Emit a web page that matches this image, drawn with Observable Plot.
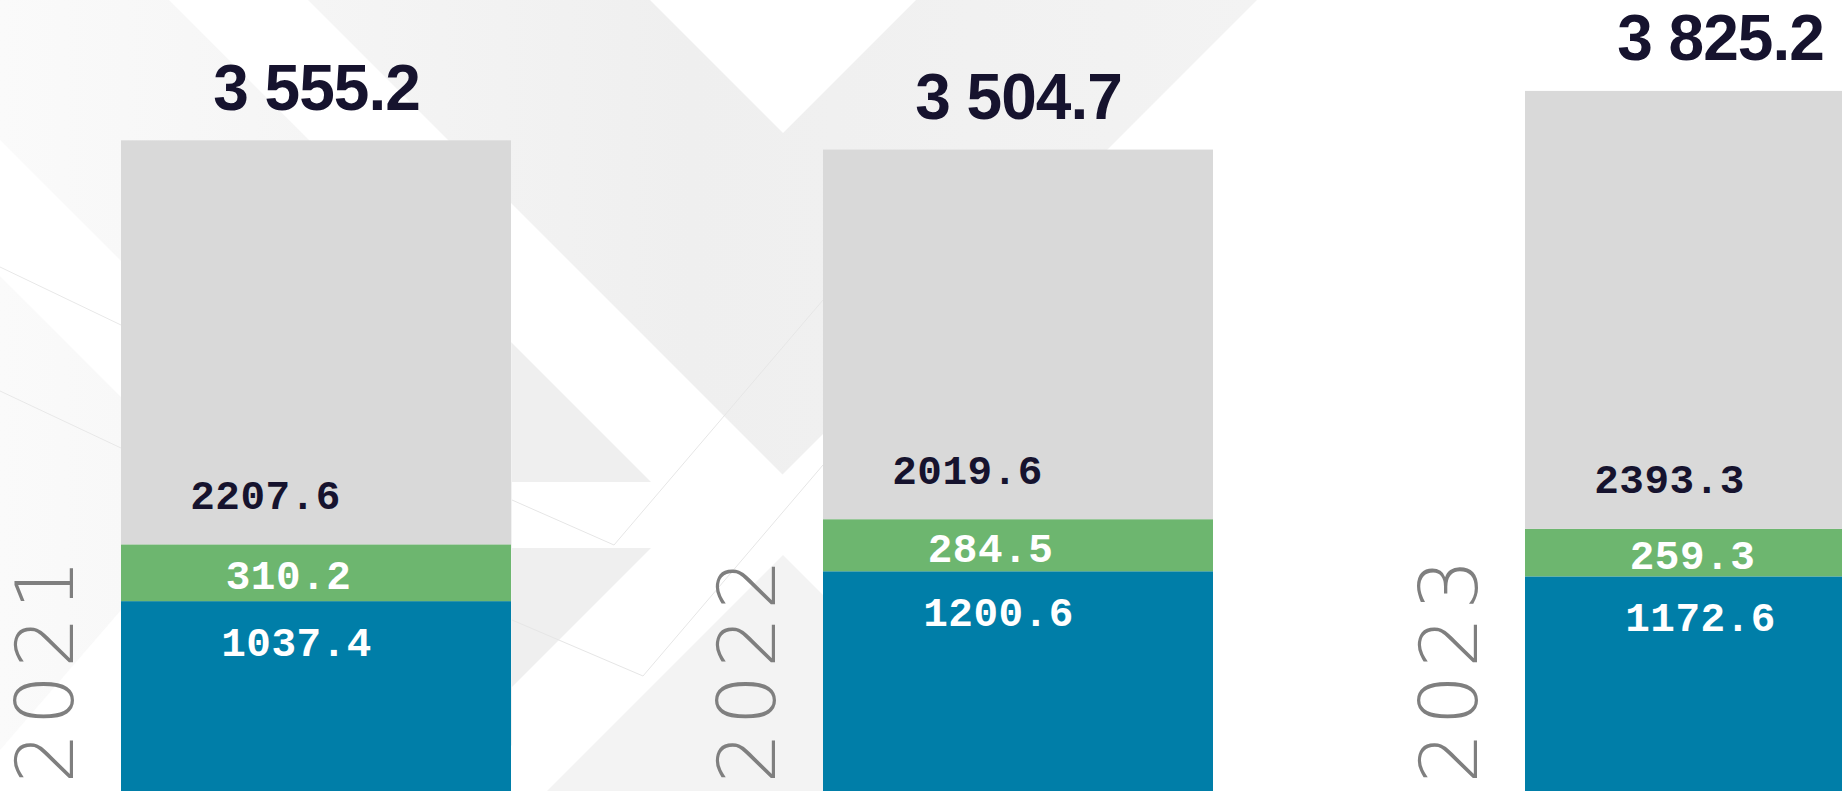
<!DOCTYPE html>
<html>
<head>
<meta charset="utf-8">
<script src="https://cdn.jsdelivr.net/npm/d3@7"></script>
<script src="https://cdn.jsdelivr.net/npm/@observablehq/plot@0.6"></script>
<style>
  html, body { margin: 0; padding: 0; background: #ffffff; }
  #wrap { position: relative; width: 1842px; height: 791px; overflow: hidden; }
  #bg, #chart { position: absolute; left: 0; top: 0; }
  #chart g[font-size="41"] { letter-spacing: 0.5px; }
  #chart g[font-size="64"] { letter-spacing: -1px; }
  #chart g[font-size="80"] { letter-spacing: 7px; }
</style>
</head>
<body>
<div id="wrap">
  <!-- decorative background pattern -->
  <svg id="bg" width="1842" height="791" xmlns="http://www.w3.org/2000/svg">
    <defs>
      <linearGradient id="gfade" x1="0" y1="0" x2="1" y2="0">
        <stop offset="0" stop-color="#fafafa"/>
        <stop offset="0.55" stop-color="#efefef"/>
        <stop offset="1" stop-color="#f3f3f3"/>
      </linearGradient>
    </defs>
    <rect width="1842" height="791" fill="#ffffff"/>
    <polygon points="0,0 1257,0 466,791 0,791" fill="url(#gfade)"/>
    <polygon points="650,0 916,0 783,133" fill="#ffffff"/>
    <polygon points="169,0 308,0 800,492 800,791 512,791 512,343" fill="#ffffff"/>
    <polygon points="512,343 651,482 512,482" fill="#efefef"/>
    <polygon points="512,548 651,548 512,687" fill="#efefef"/>
    <polygon points="783,555 1019,791 547,791" fill="#f3f3f3"/>
    <polygon points="0,140 0,276 121,397 121,261" fill="#ffffff"/>
    <polygon points="0,750 121,610 121,791 0,791" fill="#ffffff"/>
    <line x1="0" y1="267" x2="121" y2="325" stroke="#e8e8e8" stroke-width="1"/>
    <line x1="0" y1="391" x2="121" y2="448" stroke="#e8e8e8" stroke-width="1"/>
    <line x1="512" y1="500" x2="614" y2="545" stroke="#e6e6e6" stroke-width="1"/>
    <line x1="614" y1="545" x2="823" y2="300" stroke="#e6e6e6" stroke-width="1"/>
    <line x1="512" y1="620" x2="643" y2="676" stroke="#e6e6e6" stroke-width="1"/>
    <line x1="643" y1="676" x2="823" y2="465" stroke="#e6e6e6" stroke-width="1"/>
  </svg>
  <div id="chart"></div>
</div>
<script>
// ---- data ----
const years = ["2021", "2022", "2023"];
const seriesNames = ["Segment 1", "Segment 2", "Segment 3"];
const seg1 = [1037.4, 1200.6, 1172.6];   // blue (bottom)
const seg2 = [310.2, 284.5, 259.3];      // green (middle)
const seg3 = [2207.6, 2019.6, 2393.3];   // grey (top)
const colors = ["#007ea8", "#6db66f", "#d9d9d9"];

// ---- derived tables ----
const rows = years.flatMap((yr, i) => [
  {year: yr, series: seriesNames[0], value: seg1[i]},
  {year: yr, series: seriesNames[1], value: seg2[i]},
  {year: yr, series: seriesNames[2], value: seg3[i]}
]);
const totals = years.map((yr, i) => ({year: yr, total: seg1[i] + seg2[i] + seg3[i]}));
const blueLabels = years.map((yr, i) => ({year: yr, pos: seg1[i], value: seg1[i]}));
const greenLabels = years.map((yr, i) => ({year: yr, pos: seg1[i] + seg2[i] / 2, value: seg2[i]}));
const greyLabels = years.map((yr, i) => ({year: yr, pos: seg1[i] + seg2[i], value: seg3[i]}));

const fmtTotal = d3.formatLocale({decimal: ".", thousands: " ", grouping: [3], currency: ["", ""]}).format(",.1f");
const fmtSeg = d => d.toFixed(1);

const dark = "#16132e";
const mono = "'Liberation Mono', 'DejaVu Sans Mono', monospace";

const plot = Plot.plot({
  width: 1842,
  height: 791,
  marginTop: 0, marginBottom: 0, marginLeft: 0, marginRight: 0,
  style: {background: "transparent", overflow: "hidden"},
  x: {type: "band", domain: years, range: [121, 1916], paddingInner: 0.4444, paddingOuter: 0, axis: null},
  y: {domain: [0, 4322], axis: null},
  color: {domain: seriesNames, range: colors},
  marks: [
    Plot.barY(rows, {x: "year", y: "value", fill: "series"}),
    Plot.text(years, {
      x: d => d, frameAnchor: "bottom", text: d => d, rotate: -90,
      textAnchor: "start", lineAnchor: "middle", dx: -269, dy: -8,
      fontSize: 80, fontWeight: 200, fontFamily: "'DejaVu Sans', sans-serif", fill: "#7f7f7f"
    }),
    Plot.text(greyLabels, {
      x: "year", y: "pos", text: d => fmtSeg(d.value), dx: -51, dy: -36,
      lineAnchor: "bottom", fontSize: 41, fontWeight: "bold", fontFamily: mono,
      fill: dark
    }),
    Plot.text(greenLabels, {
      x: "year", y: "pos", text: d => fmtSeg(d.value), dx: -28, dy: 3,
      lineAnchor: "middle", fontSize: 41, fontWeight: "bold", fontFamily: mono,
      fill: "#ffffff"
    }),
    Plot.text(blueLabels, {
      x: "year", y: "pos", text: d => fmtSeg(d.value), dx: -20, dy: 54,
      lineAnchor: "bottom", fontSize: 41, fontWeight: "bold", fontFamily: mono,
      fill: "#ffffff"
    }),
    Plot.text(totals, {
      x: "year", y: "total", text: d => fmtTotal(d.total), dy: -31,
      lineAnchor: "bottom", fontSize: 64, fontWeight: "bold",
      fontFamily: "'Liberation Sans', Arial, sans-serif", fill: dark
    })
  ]
});

document.getElementById("chart").appendChild(plot);
</script>
</body>
</html>
